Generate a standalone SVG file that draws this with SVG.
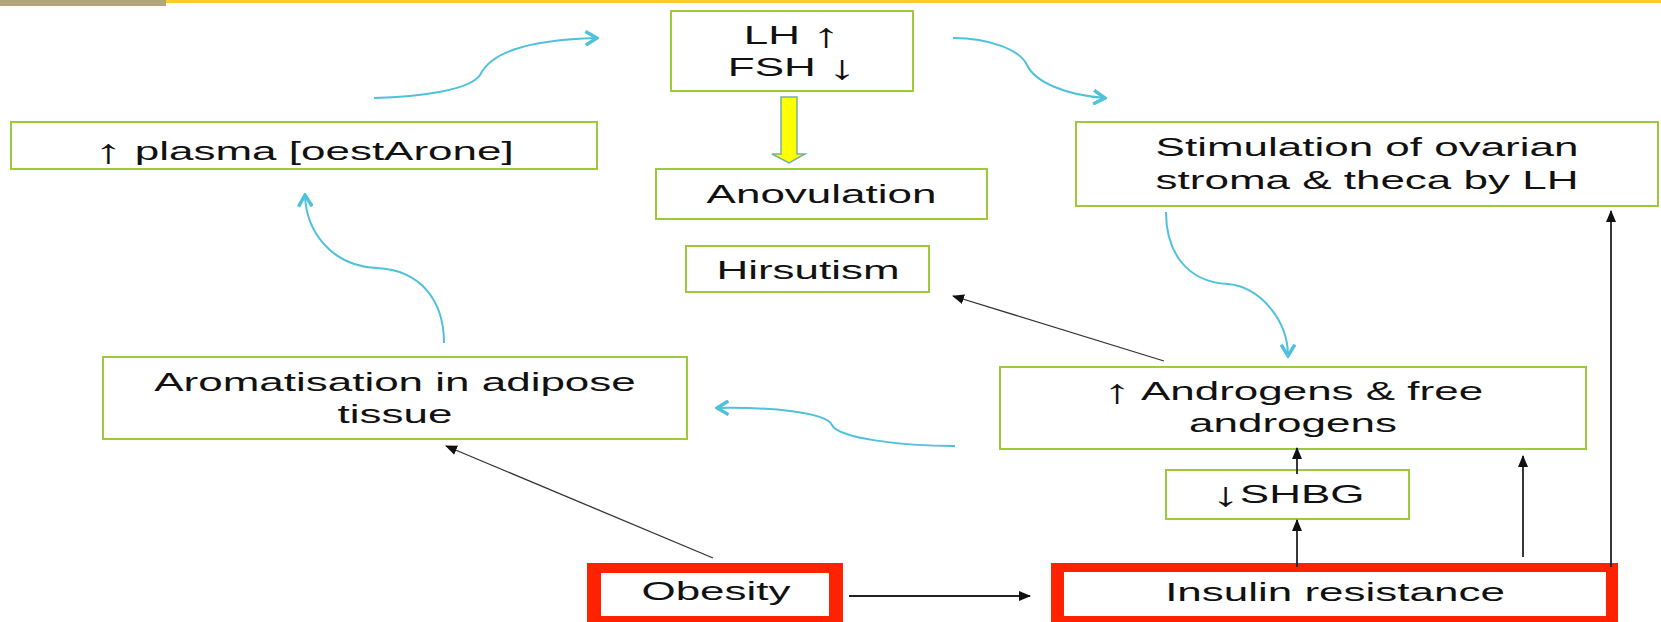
<svg xmlns="http://www.w3.org/2000/svg" width="1661" height="622" viewBox="0 0 1661 622">
<defs>
<style>
.box{fill:#fff;stroke:#9dc93b;stroke-width:2}
.t{font-family:"Liberation Sans",Arial,sans-serif;font-size:26.5px;fill:#111;text-anchor:middle}
.ar{font-size:34px}
.cy{fill:none;stroke:#4fc1da;stroke-width:2}
.bk{fill:none;stroke:#222;stroke-width:1.8}
.bkt{fill:none;stroke:#333;stroke-width:1.3}
.red{fill:#ff2200}
</style>
<marker id="chev" markerUnits="userSpaceOnUse" markerWidth="16" markerHeight="16" viewBox="0 0 14 14" refX="12" refY="7" orient="auto">
<path d="M2,1 L12,7 L2,13" fill="none" stroke="#4fc1da" stroke-width="3" stroke-linejoin="miter"/>
</marker>
<marker id="tri" markerUnits="userSpaceOnUse" markerWidth="12" markerHeight="10" viewBox="0 0 12 10" refX="11" refY="5" orient="auto">
<path d="M0,0 L12,5 L0,10 z" fill="#111"/>
</marker>
</defs>
<rect x="0" y="0" width="1661" height="622" fill="#fff"/>
<rect x="166" y="0" width="1495" height="3" fill="#ffcc2a"/>
<rect x="0" y="0" width="166" height="6" fill="#b3a57a"/>

<g id="lh">
<rect class="box" x="671" y="11" width="242" height="80"/>
<text class="t" transform="translate(792,44) scale(1.66,1)">LH <tspan class="ar" dy="3">↑</tspan></text>
<text class="t" transform="translate(792,76) scale(1.66,1)">FSH <tspan class="ar" dy="3">↓</tspan></text>
</g>
<g id="anovulation">
<rect class="box" x="656" y="169" width="331" height="50"/>
<text class="t" transform="translate(821.5,203) scale(1.66,1)">Anovulation</text>
</g>
<g id="hirsutism">
<rect class="box" x="686" y="246" width="243" height="46"/>
<text class="t" transform="translate(808,279) scale(1.66,1)">Hirsutism</text>
</g>
<g id="plasma">
<rect class="box" x="11" y="122" width="586" height="47"/>
<text class="t" transform="translate(304,160) scale(1.66,1)"><tspan class="ar" dy="3">↑</tspan><tspan dy="-3"> plasma [oestArone]</tspan></text>
</g>
<g id="stimulation">
<rect class="box" x="1076" y="122" width="582" height="84"/>
<text class="t" transform="translate(1367,156) scale(1.66,1)">Stimulation of ovarian</text>
<text class="t" transform="translate(1367,189) scale(1.66,1)">stroma &amp; theca by LH</text>
</g>
<g id="aromatisation">
<rect class="box" x="103" y="357" width="584" height="82"/>
<text class="t" transform="translate(395,391) scale(1.66,1)">Aromatisation in adipose</text>
<text class="t" transform="translate(395,423) scale(1.66,1)">tissue</text>
</g>
<g id="androgens">
<rect class="box" x="1000" y="367" width="586" height="82"/>
<text class="t" transform="translate(1293,400) scale(1.66,1)"><tspan class="ar" dy="3">↑</tspan><tspan dy="-3"> Androgens &amp; free</tspan></text>
<text class="t" transform="translate(1293,432) scale(1.66,1)">androgens</text>
</g>
<g id="shbg">
<rect class="box" x="1166" y="470" width="243" height="49"/>
<text class="t" transform="translate(1288,503) scale(1.66,1)"><tspan class="ar" dy="3">↓</tspan><tspan dy="-3">SHBG</tspan></text>
</g>
<g id="obesity">
<rect class="red" x="587" y="563" width="256" height="62"/>
<rect x="601" y="573" width="228" height="43" fill="#fff"/>
<text class="t" transform="translate(716,600) scale(1.66,1)">Obesity</text>
</g>
<g id="insulin">
<rect class="red" x="1051" y="563" width="567" height="62"/>
<rect x="1064" y="572" width="542" height="44" fill="#fff"/>
<text class="t" transform="translate(1335,601) scale(1.66,1)">Insulin resistance</text>
</g>

<g id="connectors">
<polygon points="781,97 797,97 797,154 805,154 789,163 772,154 781,154" fill="#ffff00" stroke="#7aaea2" stroke-width="1.5"/>
<path class="cy" marker-end="url(#chev)" d="M374,98 C420,97 470,90 480,75 C490,55 520,40 597,38"/>
<path class="cy" marker-end="url(#chev)" d="M953,38 C990,38 1020,50 1027,65 C1035,82 1065,95 1105,98"/>
<path class="cy" marker-end="url(#chev)" d="M1166,212 C1166,250 1185,282 1228,284 C1260,287 1288,320 1288,356"/>
<path class="cy" marker-end="url(#chev)" d="M955,446 C900,446 838,438 832,425 C826,412 770,407 717,408"/>
<path class="cy" marker-end="url(#chev)" d="M444,343 C444,300 420,270 377,268 C330,266 306,230 305,195"/>
<line class="bkt" marker-end="url(#tri)" x1="1164" y1="361" x2="953" y2="296"/>
<line class="bkt" marker-end="url(#tri)" x1="713" y1="558" x2="446" y2="446"/>
<line class="bk" marker-end="url(#tri)" x1="849" y1="596" x2="1030" y2="596"/>
<line class="bk" marker-end="url(#tri)" x1="1297" y1="567" x2="1297" y2="520"/>
<line class="bk" marker-end="url(#tri)" x1="1297" y1="474" x2="1297" y2="448"/>
<line class="bk" marker-end="url(#tri)" x1="1523" y1="557" x2="1523" y2="456"/>
<line class="bk" marker-end="url(#tri)" x1="1611" y1="567" x2="1611" y2="211"/>
</g>
</svg>
